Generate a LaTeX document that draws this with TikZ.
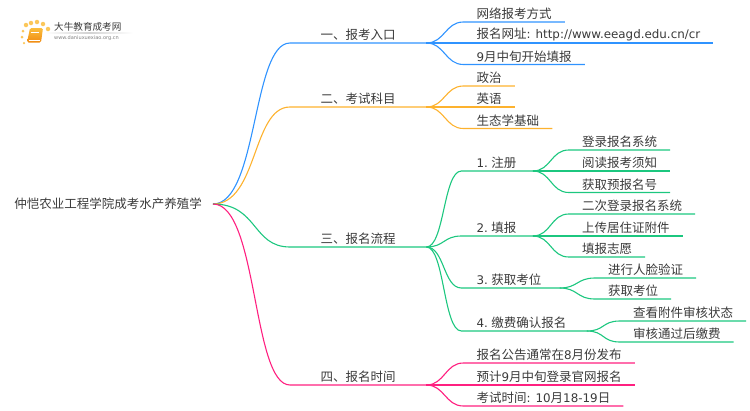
\documentclass[tikz,border=0pt]{standalone}
\usepackage{fontspec}
\setmainfont{Noto Sans CJK SC}
\newfontfamily\latinfont[Scale=0.95]{DejaVu Sans}
\usepackage{xcolor}
\usepackage{tikz}
\usetikzlibrary{positioning}
\definecolor{inkgray}{HTML}{3A3A3A}
\definecolor{mapblue}{HTML}{2F93FF}
\definecolor{maporange}{HTML}{FDB22E}
\definecolor{mapgreen}{HTML}{1CC77F}
\definecolor{mappink}{HTML}{FF2080}
\definecolor{booktop}{HTML}{FBBE3C}
\definecolor{bookbottom}{HTML}{F08A10}
\definecolor{dotyellow}{HTML}{FBC75A}
\tikzstyle{every node}=[font=\fontsize{12.5}{14}\selectfont, text=inkgray]
\tikzstyle{root} = [anchor=east, inner xsep=11pt, inner ysep=2pt]
\tikzstyle{branch} = [anchor=south west, inner xsep=30.5pt, inner ysep=0pt, minimum height=16pt]
\tikzstyle{leaf} = [anchor=south west, inner xsep=13pt, inner ysep=0pt, minimum height=16pt]
\tikzstyle{step item} = [leaf, inner xsep=15pt, text width=#1, align=left]
\tikzstyle{link} = [line width=1.1pt]
\tikzstyle{dot} = [circle, fill=dotyellow, inner sep=0pt, minimum size=4.5pt]
\newcommand{\lat}[1]{{\latinfont #1}}

\begin{document}
\begin{tikzpicture}[x=1pt, y=1pt]
  \useasboundingbox (0,0) rectangle (750,-410);

  % logo
  \node (logotitle) [anchor=west, inner sep=0pt, font=\fontsize{9.6}{11}\selectfont] at (54,-27) {大牛教育成考网};
  \node (logourl) [anchor=west, inner sep=0pt, text=gray, font=\latinfont\fontsize{5.3}{6}\selectfont] at (54,-38.5) {www.daniuxuexiao.org.cn};
  \shade[left color=white, right color=white, middle color=gray!35] (45,-33.6) rectangle (133,-32.8);
  \node[dot] at (26,-25) {};
  \node[dot] at (31,-23) {};
  \node[dot] at (37,-22) {};
  \node[dot] at (43,-24) {};
  \node[dot] at (48,-29) {};
  \node[dot, minimum size=3pt] at (23,-31) {};
  \node[dot, minimum size=3pt] at (22,-37) {};
  \node[dot, minimum size=2.5pt] at (24,-43) {};
  \shade[top color=booktop, bottom color=bookbottom, rounded corners=1.5pt] (30,-28) -- (43,-28) -- (41,-42.5) -- (27,-42.5) -- cycle;
  \draw[white, line width=0.6pt] (31,-32) -- (39,-32);
  \draw[white, line width=0.4pt] (28.5,-40.5) -- (39.5,-40.5);

  % main topic and branches
  \node (root) [root] at (213,-204) {仲恺农业工程学院成考水产养殖学};
  \node (entry) [branch, above right=161pt and 77pt of root.east, anchor=south west] {一、报考入口};
  \node (subject) [branch, above right=97pt and 77pt of root.east, anchor=south west] {二、考试科目};
  \node (process) [branch, below right=43pt and 77pt of root.east, anchor=south west] {三、报名流程};
  \node (timing) [branch, below right=181pt and 77pt of root.east, anchor=south west] {四、报名时间};

  % first branch
  \node (entrya) [leaf, above right=21pt and 37pt of entry.south east, anchor=south west] {网络报考方式};
  \node (entryb) [leaf, right=37pt of entry.south east, anchor=south west] {报名网址\lat{: http://www.eeagd.edu.cn/cr}};
  \node (entryc) [leaf, below right=21.5pt and 37pt of entry.south east, anchor=south west] {\lat{9}月中旬开始填报};

  % second branch
  \node (subjecta) [leaf, above right=21pt and 37pt of subject.south east, anchor=south west] {政治};
  \node (subjectb) [leaf, right=37pt of subject.south east, anchor=south west] {英语};
  \node (subjectc) [leaf, below right=21.5pt and 37pt of subject.south east, anchor=south west] {生态学基础};

  % third branch
  \node (signup) [step item=41pt, above right=76pt and 35pt of process.south east, anchor=south west] {\lat{1.}\hspace{3.5pt}注册};
  \node (fill) [step item=41pt, above right=11pt and 35pt of process.south east, anchor=south west] {\lat{2.}\hspace{3.5pt}填报};
  \node (seat) [step item=68pt, below right=41pt and 35pt of process.south east, anchor=south west] {\lat{3.}\hspace{3.5pt}获取考位};
  \node (pay) [step item=95pt, below right=84pt and 35pt of process.south east, anchor=south west] {\lat{4.}\hspace{3.5pt}缴费确认报名};

  \node (signupa) [leaf, above right=21pt and 36pt of signup.south east, anchor=south west] {登录报名系统};
  \node (signupb) [leaf, right=36pt of signup.south east, anchor=south west] {阅读报考须知};
  \node (signupc) [leaf, below right=21.5pt and 36pt of signup.south east, anchor=south west] {获取预报名号};

  \node (filla) [leaf, above right=22pt and 36pt of fill.south east, anchor=south west] {二次登录报名系统};
  \node (fillb) [leaf, right=36pt of fill.south east, anchor=south west] {上传居住证附件};
  \node (fillc) [leaf, below right=21pt and 36pt of fill.south east, anchor=south west] {填报志愿};

  \node (seata) [leaf, above right=10pt and 35pt of seat.south east, anchor=south west] {进行人脸验证};
  \node (seatb) [leaf, below right=11pt and 35pt of seat.south east, anchor=south west] {获取考位};

  \node (paya) [leaf, above right=10pt and 33pt of pay.south east, anchor=south west] {查看附件审核状态};
  \node (payb) [leaf, below right=11pt and 33pt of pay.south east, anchor=south west] {审核通过后缴费};

  % fourth branch
  \node (timinga) [leaf, above right=22pt and 37pt of timing.south east, anchor=south west] {报名公告通常在\lat{8}月份发布};
  \node (timingb) [leaf, right=37pt of timing.south east, anchor=south west] {预计\lat{9}月中旬登录官网报名};
  \node (timingc) [leaf, below right=21pt and 37pt of timing.south east, anchor=south west] {考试时间\lat{: 10}月\lat{18-19}日};

  % connectors
  \foreach \b/\c in {entry/mapblue, subject/maporange, process/mapgreen, timing/mappink}
    \draw[link, \c] (root.east) .. controls +(45,0) and +(-38,0) .. (\b.south west) -- (\b.south east);

  \foreach \a/\b in {entry/entrya, entry/entryb, entry/entryc}
    \draw[link, mapblue] (\a.south east) .. controls +(18,0) and +(-18,0) .. (\b.south west) -- (\b.south east);
  \foreach \a/\b in {subject/subjecta, subject/subjectb, subject/subjectc}
    \draw[link, maporange] (\a.south east) .. controls +(18,0) and +(-18,0) .. (\b.south west) -- (\b.south east);
  \foreach \a/\b in {process/signup, process/fill, process/seat, process/pay, signup/signupa, signup/signupb, signup/signupc, fill/filla, fill/fillb, fill/fillc, seat/seata, seat/seatb, pay/paya, pay/payb}
    \draw[link, mapgreen] (\a.south east) .. controls +(18,0) and +(-18,0) .. (\b.south west) -- (\b.south east);
  \foreach \a/\b in {timing/timinga, timing/timingb, timing/timingc}
    \draw[link, mappink] (\a.south east) .. controls +(18,0) and +(-18,0) .. (\b.south west) -- (\b.south east);
\end{tikzpicture}
\end{document}
